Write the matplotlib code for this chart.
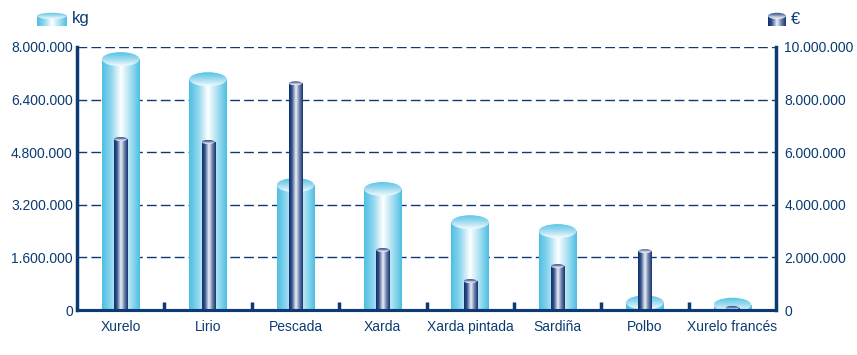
import numpy as np
import matplotlib.pyplot as plt
from matplotlib.patches import Ellipse
from matplotlib.colors import LinearSegmentedColormap
from matplotlib.ticker import FuncFormatter

plt.rcParams['font.family'] = ['Liberation Sans', 'DejaVu Sans']

categories = ['Xurelo', 'Lirio', 'Pescada', 'Xarda', 'Xarda pintada',
              'Sardiña', 'Polbo', 'Xurelo francés']
kg = [7630000, 7020000, 3800000, 3680000, 2670000, 2400000, 230000, 160000]
eur = [6500000, 6390000, 8620000, 2280000, 1100000, 1670000, 2240000, 80000]
kg_ticks = [0, 1600000, 3200000, 4800000, 6400000, 8000000]
eur_ticks = [0, 2000000, 4000000, 6000000, 8000000, 10000000]

navy = '#0b3b73'
light = LinearSegmentedColormap.from_list(
    'light', [(0, '#4cbfe3'), (0.25, '#93d7ef'), (0.5, '#ffffff'),
              (0.75, '#a9e0f2'), (1, '#4cbfe3')])
light_cap = LinearSegmentedColormap.from_list(
    'lightcap', [(0, '#f4fbfe'), (0.45, '#a6def2'), (1, '#52c2e5')])
dark = LinearSegmentedColormap.from_list(
    'dark', [(0, '#0f2f68'), (0.2, '#2f4f8a'), (0.5, '#eef0f6'),
             (0.75, '#6d80ab'), (1, '#12336d')])
dark_cap = LinearSegmentedColormap.from_list(
    'darkcap', [(0, '#f0f2f8'), (0.35, '#b8c3dc'), (0.6, '#6f82ad'), (1, '#2c4a86')])

W, H = 857, 355
left, right, bottom, top = 77 / W, 776 / W, 45 / H, 308 / H
fig = plt.figure(figsize=(W / 100, H / 100), dpi=100)
ax = fig.add_axes([left, bottom, right - left, top - bottom])
ax2 = ax.twinx()

hgrad = np.linspace(0, 1, 256).reshape(1, -1)
vgrad = np.linspace(0, 1, 64).reshape(-1, 1)


def cylinder(a, x, v, w, body, cap, cap_h, z):
    bar = a.bar(x, v, width=w, color='none', edgecolor='none', zorder=z)[0]
    im = a.imshow(hgrad, cmap=body, extent=(x - w / 2, x + w / 2, 0, v),
                  aspect='auto', zorder=z, interpolation='bilinear')
    im.set_clip_path(bar)
    el = Ellipse((x, v), w, cap_h, facecolor='none', edgecolor='none', zorder=z + 0.1)
    a.add_patch(el)
    im2 = a.imshow(vgrad, cmap=cap, extent=(x - w / 2, x + w / 2, v - cap_h / 2, v + cap_h / 2),
                   aspect='auto', zorder=z + 0.1, interpolation='bilinear', origin='lower')
    im2.set_clip_path(el)


ax_h = (top - bottom) * H
xs = np.arange(len(categories))
for x, v in zip(xs, kg):
    cylinder(ax, x, v, 0.43, light, light_cap, 14 * kg_ticks[-1] / ax_h, 2)
for x, v in zip(xs, eur):
    cylinder(ax2, x, v, 0.15, dark, dark_cap, 4 * eur_ticks[-1] / ax_h, 2)

fmt = FuncFormatter(lambda v, p: '{:,.0f}'.format(v).replace(',', '.'))
ax.set_xlim(-0.5, len(categories) - 0.5)
ax.set_ylim(0, kg_ticks[-1])
ax2.set_ylim(0, eur_ticks[-1])
ax.set_yticks(kg_ticks)
ax2.set_yticks(eur_ticks)
ax.yaxis.set_major_formatter(fmt)
ax2.yaxis.set_major_formatter(fmt)

ax.set_xticks(xs)
ax.set_xticklabels(categories)
ax.set_xticks(xs[:-1] + 0.5, minor=True)
ax.tick_params(axis='x', which='major', length=0, pad=7, labelsize=10, labelcolor=navy)
ax.tick_params(axis='x', which='minor', direction='in', length=6, width=2.5, color=navy)
ax.tick_params(axis='y', length=0, pad=3, labelsize=10, labelcolor=navy)
ax2.tick_params(axis='y', length=0, pad=6, labelsize=10, labelcolor=navy)

ax.set_axisbelow(True)
ax.grid(axis='y', color=navy, linestyle=(0, (7, 3)), linewidth=1)

for a in (ax, ax2):
    a.spines['top'].set_visible(False)
    for s in ('left', 'right', 'bottom'):
        a.spines[s].set_color(navy)
ax.spines['left'].set_linewidth(2.5)
ax2.spines['right'].set_linewidth(2.5)
ax.spines['bottom'].set_linewidth(2.2)
ax2.spines['bottom'].set_linewidth(2.2)
ax.spines['right'].set_visible(False)
ax2.spines['left'].set_visible(False)

# legend icons
for (x0, x1, body, cap, label) in [(37, 67, light, light_cap, 'kg'),
                                   (768, 786, dark, dark_cap, '€')]:
    lax = fig.add_axes([x0 / W, (H - 26) / H, (x1 - x0) / W, 14 / H])
    lax.axis('off')
    cylinder(lax, 0, 0.72, 1, body, cap, 0.45, 1)
    lax.set_xlim(-0.5, 0.5)
    lax.set_ylim(0, 1)
    fig.text((x1 + 5) / W, (H - 19) / H, label, color=navy, fontsize=12, va='center')

fig.savefig('out.png', dpi=100)
